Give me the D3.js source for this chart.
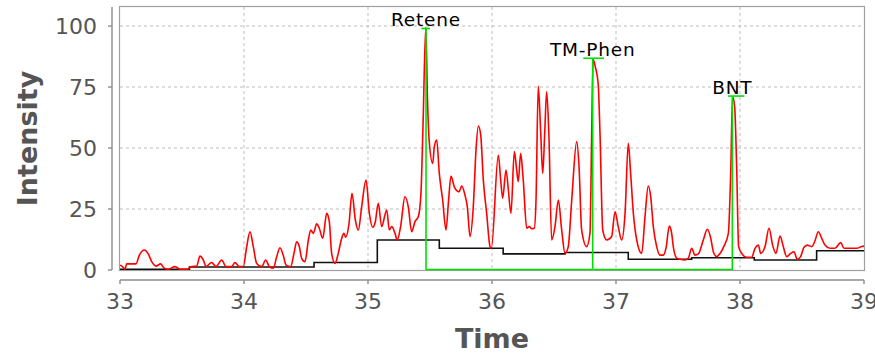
<!DOCTYPE html>
<html>
<head>
<meta charset="utf-8">
<script src="https://cdn.jsdelivr.net/npm/d3@7/dist/d3.min.js"></script>
<style>
  html, body { margin: 0; padding: 0; background: #fff; }
  svg { display: block; font-family: "DejaVu Sans", sans-serif; }
</style>
</head>
<body>
<svg id="chart" width="875" height="354"></svg>
<script>
// ---- data ----
const xTicks = [33, 34, 35, 36, 37, 38, 39];
const yTicks = [0, 25, 50, 75, 100];

const redTimes = [
  33.000,33.020,33.040,33.054,33.129,33.156,33.196,33.228,33.256,33.290,33.328,33.357,33.390,33.444,33.484,33.543,
  33.578,33.618,33.645,33.672,33.694,33.739,33.774,33.820,33.855,33.900,33.927,33.962,33.994,34.022,34.048,34.075,
  34.102,34.143,34.175,34.204,34.236,34.264,34.290,34.317,34.339,34.376,34.403,34.425,34.446,34.465,34.492,34.519,
  34.538,34.559,34.586,34.607,34.635,34.667,34.688,34.707,34.734,34.760,34.788,34.806,34.820,34.847,34.871,34.898,
  34.922,34.949,34.984,35.011,35.038,35.059,35.083,35.110,35.151,35.172,35.191,35.218,35.236,35.263,35.298,35.325,
  35.352,35.379,35.406,35.427,35.444,35.466,35.480,35.493,35.522,35.535,35.554,35.575,35.602,35.629,35.650,35.669,
  35.696,35.734,35.756,35.782,35.801,35.823,35.849,35.871,35.890,35.909,35.930,35.957,35.984,35.995,36.051,36.070,
  36.086,36.113,36.132,36.153,36.180,36.199,36.212,36.231,36.252,36.280,36.301,36.320,36.341,36.355,36.373,36.393,
  36.409,36.425,36.441,36.460,36.481,36.508,36.535,36.562,36.589,36.615,36.643,36.683,36.702,36.723,36.763,36.790,
  36.804,36.815,36.833,36.857,36.871,36.893,36.925,36.965,36.992,37.018,37.046,37.073,37.099,37.118,37.140,37.167,
  37.207,37.234,37.260,37.280,37.301,37.328,37.355,37.382,37.403,37.430,37.449,37.462,37.490,37.516,37.556,37.583,
  37.610,37.637,37.664,37.704,37.736,37.764,37.785,37.812,37.839,37.871,37.906,37.925,37.940,37.957,37.973,37.989,
  38.014,38.054,38.094,38.121,38.148,38.167,38.202,38.234,38.263,38.290,38.323,38.349,38.376,38.409,38.435,38.462,
  38.489,38.516,38.543,38.578,38.605,38.631,38.659,38.685,38.726,38.766,38.812,38.839,38.887,38.941,38.981,39.000
];
const redValues = [
  2.0,1.4,0.3,2.5,2.5,6.1,8.2,6.6,3.4,1.6,2.5,0.7,0.3,1.4,0.3,0.3,
  1.4,1.6,5.7,4.1,1.4,3.1,1.4,4.1,1.4,1.4,3.1,1.4,1.4,9.6,15.7,9.6,
  2.7,1.4,4.1,1.4,0.7,5.5,9.1,5.9,2.0,1.4,6.8,11.6,9.6,4.8,3.4,12.3,
  16.4,15.0,18.9,17.1,13.0,23.2,19.8,6.8,2.7,6.8,13.0,15.0,13.4,19.1,31.4,20.5,
  16.4,25.9,36.9,23.2,17.5,19.8,27.3,17.8,24.6,16.4,17.8,15.0,12.3,17.8,30.0,25.9,
  15.7,19.8,21.9,31.4,60.0,99.5,69.7,53.3,43.7,50.6,53.3,39.6,28.7,16.4,28.7,38.5,
  34.1,32.1,34.4,30.7,25.9,13.7,25.9,49.2,59.0,55.3,36.9,23.2,9.6,8.9,47.1,36.9,
  29.4,41.0,32.8,23.2,48.5,41.0,36.2,47.8,36.9,17.1,17.8,16.9,17.1,28.7,75.4,56.0,
  39.6,56.0,73.1,53.3,12.3,17.8,28.7,16.4,6.8,9.6,28.7,52.6,42.3,16.4,9.6,15.0,
  56.0,86.5,83.3,75.8,56.0,16.4,12.3,13.7,23.9,17.8,12.3,23.2,51.9,39.6,23.2,12.3,
  6.8,21.9,34.4,30.0,17.8,9.6,6.1,6.1,8.9,18.0,15.0,9.6,4.8,4.4,4.1,4.8,
  8.9,6.1,6.6,12.3,16.7,13.0,7.5,5.5,6.8,9.8,15.0,39.6,71.0,66.9,42.3,9.6,
  6.8,5.2,5.2,8.9,10.2,6.8,9.6,17.1,10.2,6.8,13.9,9.6,5.5,6.8,7.5,4.4,
  5.5,9.3,10.2,9.6,12.0,15.7,13.0,10.2,8.9,8.9,11.2,8.9,8.9,8.9,9.6,9.8
];

const stepTimes  = [33.00, 33.56, 34.565, 35.075, 35.575, 36.09, 36.589, 37.099, 37.61, 38.115, 38.618, 39.00];
const stepValues = [0.3,   1.2,   3.1,    12.3,   8.9,    6.6,   7.2,    4.4,    5.0,   4.1,    7.9,    7.9];

const peakNames  = ["Retene", "TM-Phen", "BNT"];
const peakTimes  = [35.468, 36.812, 37.938];
const peakValues = [99.0, 86.8, 71.3];
const peakStarts = [35.430, 36.736, 37.903];
const peakEnds   = [35.500, 36.903, 38.035];

// ---- layout ----
const svg = d3.select("#chart");
const L = 120, R = 864, T = 7, B = 270;
const x = d3.scaleLinear().domain([33, 39]).range([L, R]);
const y = d3.scaleLinear().domain([0, 107.8]).range([B, T]);

const gridColor = "#bdbdbd";
const axisColor = "#8c8c8c";
const textColor = "#555555";

// grid
const grid = svg.append("g");
grid.selectAll("line.vx").data(xTicks.filter(d => d > 33 && d < 39)).join("line")
  .attr("x1", d => x(d)).attr("x2", d => x(d)).attr("y1", T).attr("y2", B)
  .attr("stroke", gridColor).attr("stroke-width", 1).attr("stroke-dasharray", "3,3");
grid.selectAll("line.hy").data(yTicks.filter(d => d > 0)).join("line")
  .attr("x1", L).attr("x2", R).attr("y1", d => y(d)).attr("y2", d => y(d))
  .attr("stroke", gridColor).attr("stroke-width", 1).attr("stroke-dasharray", "3,3");

// plot border
svg.append("rect").attr("x", L - 0.5).attr("y", T - 0.5).attr("width", R - L + 1).attr("height", B - T + 1)
  .attr("fill", "none").attr("stroke", "#a0a0a0").attr("stroke-width", 1.2);

// clip
svg.append("clipPath").attr("id", "clip").append("rect")
  .attr("x", L).attr("y", T - 2).attr("width", R - L).attr("height", B - T + 3);

const plot = svg.append("g").attr("clip-path", "url(#clip)");

// black step baseline
const stepData = stepTimes.map((t, i) => [t, stepValues[i]]);
plot.append("path").datum(stepData)
  .attr("d", d3.line().x(d => x(d[0])).y(d => y(d[1])).curve(d3.curveStepAfter))
  .attr("fill", "none").attr("stroke", "#111").attr("stroke-width", 1.6);

// green bottom connector
plot.append("line")
  .attr("x1", x(peakTimes[0])).attr("x2", x(peakTimes[peakTimes.length - 1]))
  .attr("y1", y(0) - 0.5).attr("y2", y(0) - 0.5)
  .attr("stroke", "#00e000").attr("stroke-width", 1.6);

// red trace
const redData = redTimes.map((t, i) => [t, redValues[i]]);
plot.append("path").datum(redData)
  .attr("d", d3.line().x(d => x(d[0])).y(d => y(d[1])).curve(d3.curveMonotoneX))
  .attr("fill", "none").attr("stroke", "#ff0000").attr("stroke-width", 1.6).attr("stroke-linejoin", "round");

// green peak markers
peakNames.forEach((name, i) => {
  plot.append("line")
    .attr("x1", x(peakTimes[i])).attr("x2", x(peakTimes[i]))
    .attr("y1", y(peakValues[i])).attr("y2", y(0))
    .attr("stroke", "#00e000").attr("stroke-width", 1.6);
  plot.append("line")
    .attr("x1", x(peakStarts[i])).attr("x2", x(peakEnds[i]))
    .attr("y1", y(peakValues[i])).attr("y2", y(peakValues[i]))
    .attr("stroke", "#00e000").attr("stroke-width", 1.6);
});

// peak labels
svg.selectAll("text.peak").data(peakNames).join("text")
  .attr("x", (d, i) => x(peakTimes[i]))
  .attr("y", (d, i) => y(peakValues[i]) - 2)
  .attr("text-anchor", "middle")
  .attr("font-size", 18.5)
  .attr("letter-spacing", 0.8)
  .attr("fill", "#000")
  .text(d => d);

// y axis (offset)
const yAxisX = 112;
svg.append("line").attr("x1", yAxisX).attr("x2", yAxisX).attr("y1", T).attr("y2", B)
  .attr("stroke", axisColor).attr("stroke-width", 1.4);
svg.selectAll("line.ytick").data(yTicks).join("line")
  .attr("x1", yAxisX - 4).attr("x2", yAxisX).attr("y1", d => y(d)).attr("y2", d => y(d))
  .attr("stroke", axisColor).attr("stroke-width", 1.4);
svg.selectAll("text.ylab").data(yTicks).join("text")
  .attr("x", 97).attr("y", d => y(d)).attr("dy", "0.36em")
  .attr("text-anchor", "end").attr("font-size", 22).attr("fill", textColor)
  .text(d => d);

// x axis (offset)
const xAxisY = 280;
svg.append("line").attr("x1", L).attr("x2", R).attr("y1", xAxisY).attr("y2", xAxisY)
  .attr("stroke", axisColor).attr("stroke-width", 1.4);
svg.selectAll("line.xtick").data(xTicks).join("line")
  .attr("x1", d => x(d)).attr("x2", d => x(d)).attr("y1", xAxisY).attr("y2", xAxisY + 4)
  .attr("stroke", axisColor).attr("stroke-width", 1.4);
svg.selectAll("text.xlab").data(xTicks).join("text")
  .attr("x", d => x(d)).attr("y", 309)
  .attr("text-anchor", "middle").attr("font-size", 22).attr("fill", textColor)
  .text(d => d);

// axis titles
svg.append("text").attr("x", (L + R) / 2).attr("y", 348)
  .attr("text-anchor", "middle").attr("font-size", 27).attr("font-weight", "bold").attr("fill", textColor)
  .text("Time");
svg.append("text").attr("transform", `translate(37,${(T + B) / 2}) rotate(-90)`)
  .attr("text-anchor", "middle").attr("font-size", 27).attr("font-weight", "bold").attr("fill", textColor)
  .text("Intensity");
</script>
</body>
</html>
